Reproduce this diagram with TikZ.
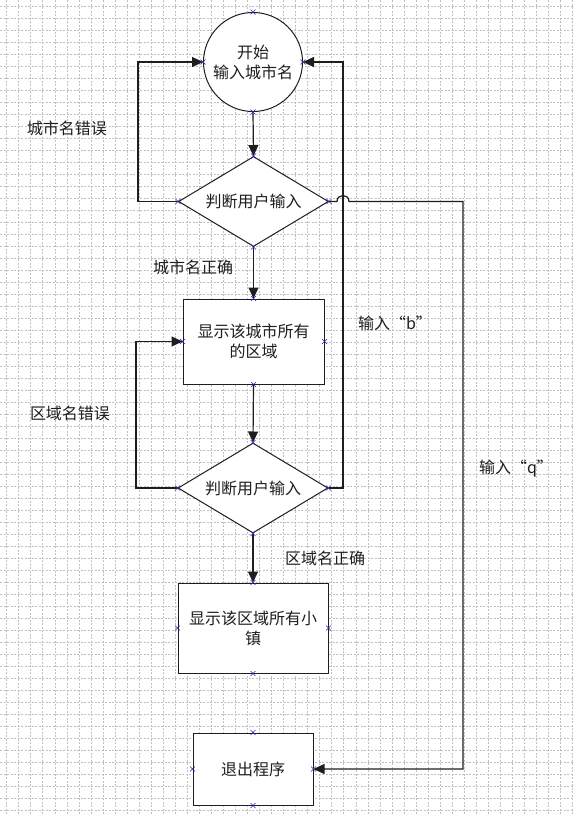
\documentclass[tikz,border=0pt]{standalone}
\usepackage{fontspec}
\newfontfamily\cjk{Noto Sans CJK SC}
\usetikzlibrary{arrows.meta,shapes.geometric}
\definecolor{gridc}{RGB}{192,192,192}
\definecolor{ink}{RGB}{30,30,30}
\definecolor{mark}{RGB}{40,40,170}
\begin{document}
\begin{tikzpicture}[x=1pt,y=-1pt,
  txt/.style={font=\cjk\fontsize{16}{20}\selectfont, text=ink, align=center, inner sep=0pt},
  shp/.style={txt, draw=ink, line width=1pt, fill=white},
  circ/.style={shp, circle, minimum size=99pt},
  dia/.style={shp, diamond, aspect=1.667, minimum width=150pt, minimum height=90pt},
  boxs/.style={shp, rectangle},
  conn/.style={draw=ink, line width=1.2pt},
  arr/.style={conn, -{Triangle[length=11pt,width=10pt]}},
  xm/.style={draw=mark, line width=0.6pt}
]
\useasboundingbox (0,0) rectangle (574,814);
\fill[white] (0,0) rectangle (574,814);
% grid
\foreach \i in {0,...,47}{
  \draw[gridc, line width=0.5pt, dash pattern=on 2pt off 1.5pt] (6.6+12.04*\i,0) -- (6.6+12.04*\i,814);
}
\foreach \i in {0,...,67}{
  \draw[gridc, line width=0.5pt, dash pattern=on 2pt off 1.5pt] (0,6.5+12*\i) -- (574,6.5+12*\i);
}
% shapes
\node[circ] (c) at (253,62) {开始\\输入城市名};
\node[dia] (d1) at (253.5,201.5) {判断用户输入};
\node[boxs, minimum width=141pt, minimum height=85pt] (b1) at (253.5,341.5) {显示该城市所有\\的区域};
\node[dia] (d2) at (253,488) {判断用户输入};
\node[boxs, minimum width=150pt, minimum height=90pt] (b2) at (253,628) {显示该区域所有小\\镇};
\node[boxs, minimum width=120pt, minimum height=72pt] (b3) at (253,769) {退出程序};
% coordinates
\coordinate (l1) at (138,201.5);
\coordinate (l2) at (136,488);
\coordinate (r2) at (343,488);
\coordinate (h1) at (337,201.5);
\coordinate (h2) at (349,201.5);
\coordinate (q1) at (463,201.5);
% connectors
\draw[arr] (c.south) -- (d1.north);
\draw[arr] (d1.south) -- (b1.north);
\draw[arr] (b1.south) -- (d2.north);
\draw[arr] (d2.south) -- (b2.north);
\draw[arr] (d1.west) -- (l1) |- (c.west);
\draw[arr] (d2.west) -- (l2) |- (b1.west);
\draw[arr] (d2.east) -- (r2) |- (c.east);
\draw[arr] (d1.east) -- (h1) .. controls (337,193.5) and (349,193.5) .. (h2) -- (q1) |- (b3.east);
% labels
\node[txt] (t1) at (67,128) {城市名错误};
\node[txt] (t2) at (193,267) {城市名正确};
\node[txt] (t3) at (395,323) {输入“b”};
\node[txt] (t4) at (70,413) {区域名错误};
\node[txt] (t5) at (516,469) {输入“q”};
\node[txt] (t6) at (325,558) {区域名正确};
% connection point marks
\foreach \n in {c,d1,d2,b1,b2,b3}{
  \foreach \a in {north,south,east,west}{
    \draw[xm] (\n.\a) +(-2.5,-2.5) -- +(2.5,2.5) +(-2.5,2.5) -- +(2.5,-2.5);
  }
}
\end{tikzpicture}
\end{document}
